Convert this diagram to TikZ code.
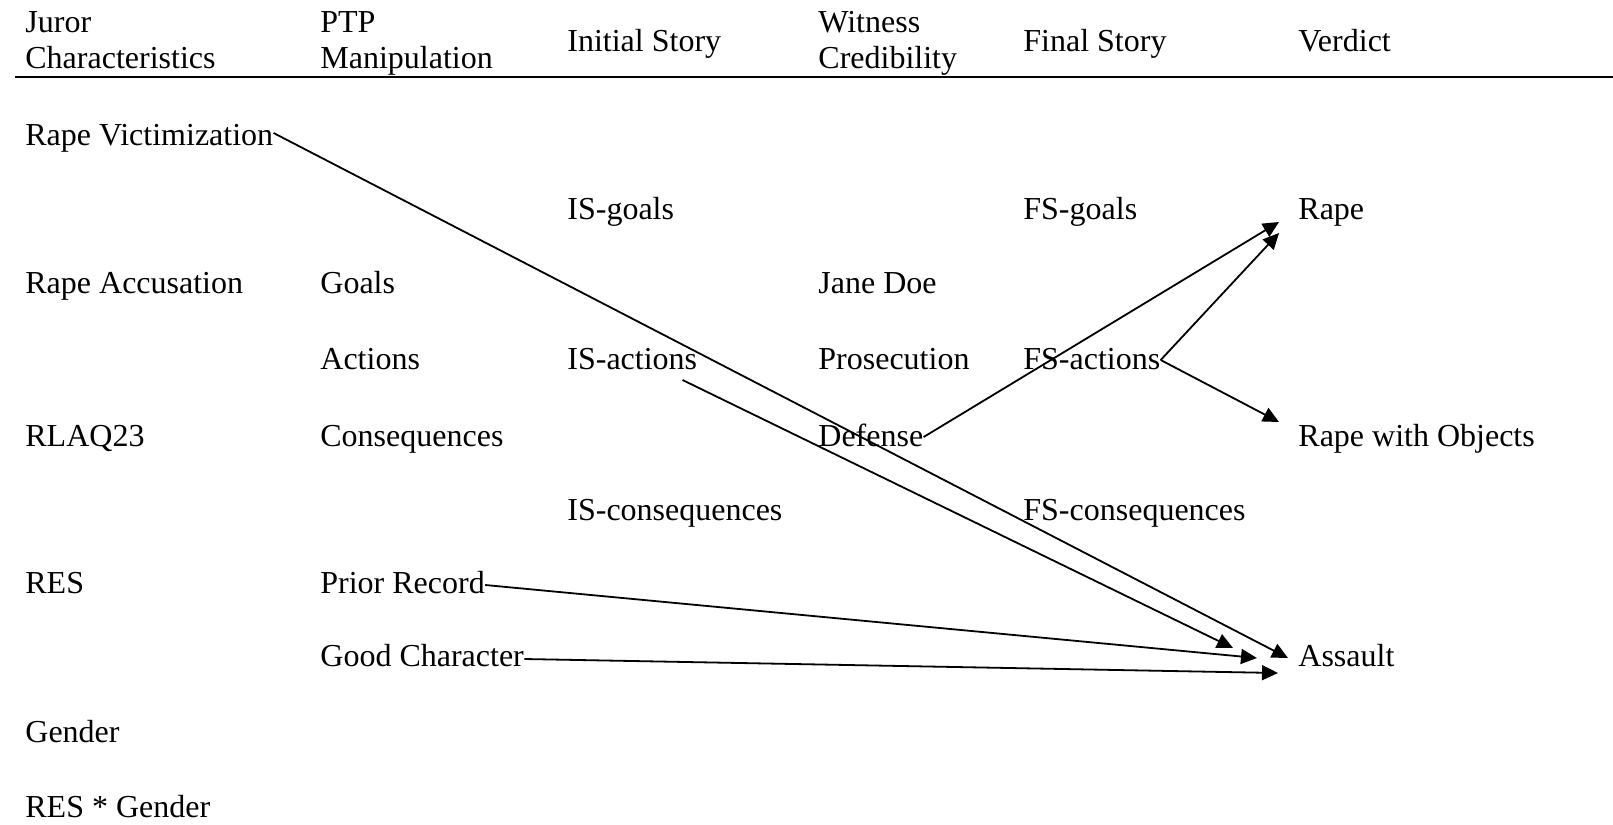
\documentclass[tikz,border=0pt]{standalone}
\usepackage{fontspec}
\setmainfont{Liberation Serif}
\usetikzlibrary{arrows.meta, positioning}

\begin{document}
\begin{tikzpicture}[x=0.5pt, y=-0.5pt, font=\fontsize{16}{18}\selectfont,
    lbl/.style={anchor=base west, inner sep=0pt},
    head/.style={anchor=base west, inner sep=0pt, align=left},
    link/.style={line width=0.9pt, -{Triangle[length=8pt, width=7.5pt]}}]
    \useasboundingbox (0,0) rectangle (1613,825);

    % column headers
    \node[head] (hjuror) at (25,68) {Juror\\Characteristics};
    \node[head] (hptp) at (320,68) {PTP\\Manipulation};
    \node[lbl] (hinit) at (567,51) {Initial Story};
    \node[head] (hwit) at (818,68) {Witness\\Credibility};
    \node[lbl] (hfinal) at (1023,51) {Final Story};
    \node[lbl] (hverd) at (1298,51) {Verdict};
    \draw[line width=1pt] (15,77) -- (1613,77);

    % juror characteristics
    \node[lbl] (rv) at (25,145) {Rape Victimization};
    \node[lbl] (racc) at (25,293) {Rape Accusation};
    \node[lbl] (rlaq) at (25,446) {RLAQ23};
    \node[lbl] (res) at (25,593) {RES};
    \node[lbl] (gender) at (25,742) {Gender};
    \node[lbl] (resg) at (25,817) {RES * Gender};

    % ptp manipulation
    \node[lbl] (goals) at (320,293) {Goals};
    \node[lbl] (actions) at (320,369) {Actions};
    \node[lbl] (conseq) at (320,446) {Consequences};
    \node[lbl] (prior) at (320,593) {Prior Record};
    \node[lbl] (goodch) at (320,666) {Good Character};

    % initial story
    \node[lbl] (isg) at (567,219) {IS-goals};
    \node[lbl] (isa) at (567,369) {IS-actions};
    \node[lbl] (isc) at (567,520) {IS-consequences};

    % witness credibility
    \node[lbl] (jane) at (818,293) {Jane Doe};
    \node[lbl] (pros) at (818,369) {Prosecution};
    \node[lbl] (def) at (818,446) {Defense};

    % final story
    \node[lbl] (fsg) at (1023,219) {FS-goals};
    \node[lbl] (fsa) at (1023,369) {FS-actions};
    \node[lbl] (fsc) at (1023,520) {FS-consequences};

    % verdict
    \node[lbl] (rape) at (1298,219) {Rape};
    \node[lbl] (rwo) at (1298,446) {Rape with Objects};
    \node[lbl] (assault) at (1298,666) {Assault};

    \draw[link] ([yshift=6pt]rv.base east) -- ([xshift=-5pt,yshift=4pt]assault.base west);
    \draw[link] ([xshift=-7.5pt,yshift=-5.5pt]isa.base east) -- ([xshift=-32.5pt,yshift=9pt]assault.base west);
    \draw[link] ([yshift=4pt]prior.base east) -- ([xshift=-20.5pt,yshift=4pt]assault.base west);
    \draw[link] ([yshift=3.5pt]goodch.base east) -- ([xshift=-10pt,yshift=-3.5pt]assault.base west);
    \draw[link] ([yshift=4.5pt]def.base east) -- ([xshift=-9.5pt,yshift=-1.5pt]rape.base west);
    \draw[link] ([yshift=4.5pt]fsa.base east) -- ([xshift=-9.5pt,yshift=-7pt]rape.base west);
    \draw[link] ([yshift=4.5pt]fsa.base east) -- ([xshift=-9.5pt,yshift=12pt]rwo.base west);
\end{tikzpicture}
\end{document}
